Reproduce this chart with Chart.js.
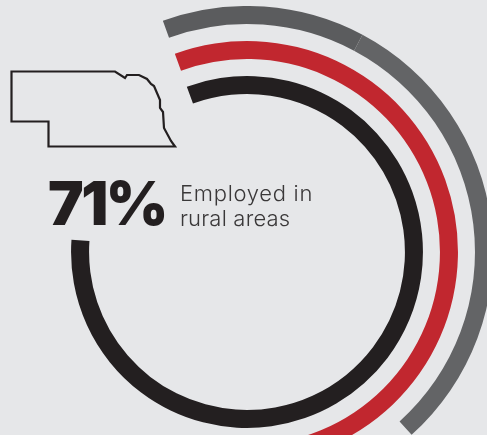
<!DOCTYPE html>
<html>
<head>
<meta charset="utf-8">
<script src="https://cdn.jsdelivr.net/npm/chart.js@4"></script>
<style>
  html, body { margin: 0; width: 487px; height: 435px; overflow: hidden; background: #e6e7e9; }
  #wrap { position: absolute; left: 1px; top: 6px; width: 492px; height: 492px; }
  #state { position: absolute; left: 0; top: 0; }
  .big { position: absolute; left: 48px; top: 166px; font: 900 60px Inter, sans-serif; letter-spacing: -2.5px; color: #231f20; line-height: 75px; white-space: nowrap; }
  .note { position: absolute; left: 180px; top: 181px; font: 300 22px/25px Inter, sans-serif; letter-spacing: 0.7px; color: #3a3839; white-space: nowrap; }
  .note span { letter-spacing: 0.2px; }
</style>
</head>
<body>
<div id="wrap"><canvas id="rings" width="492" height="492"></canvas></div>

<svg id="state" width="200" height="160">
  <path d="M11.5 71.5 L115 71.5 L125 78 L127 75 L139 75 L147 79 L151 84 L154 86 L160 100 L160 108 L163 112 L164 128 L171 141 L175 146.5 L48.5 146.5 L48.5 121.5 L11.5 121.5 Z"
        fill="none" stroke="#231f20" stroke-width="2.2"/>
</svg>

<div class="big">71%</div>
<div class="note">Employed in<br><span>rural areas</span></div>

<script>
// ---------------- DATA (degrees of arc, clockwise from the start) ----------------
const grayArc = [48, 110, 202];
const redArc = [200, 160];
const blackArc = [294, 66];
const gap = [360];

const grayColors = ["#5b5c5e", "#636466", "transparent"];
const redColors = ["#c1272f", "transparent"];
const blackColors = ["#231f20", "transparent"];

// ---------------- RINGS ----------------
new Chart(document.getElementById("rings"), {
    type: "doughnut",
    data: {
        datasets: [
            { data: grayArc, backgroundColor: grayColors, weight: 18 },
            { data: gap, backgroundColor: ["transparent"], weight: 17 },
            { data: redArc, backgroundColor: redColors, weight: 18 },
            { data: gap, backgroundColor: ["transparent"], weight: 17 },
            { data: blackArc, backgroundColor: blackColors, weight: 18 }
        ]
    },
    options: {
        responsive: false,
        animation: false,
        rotation: -20,
        cutout: "64.2%",
        borderWidth: 0,
        plugins: {
            legend: { display: false },
            tooltip: { enabled: false }
        }
    }
});
</script>
</body>
</html>
